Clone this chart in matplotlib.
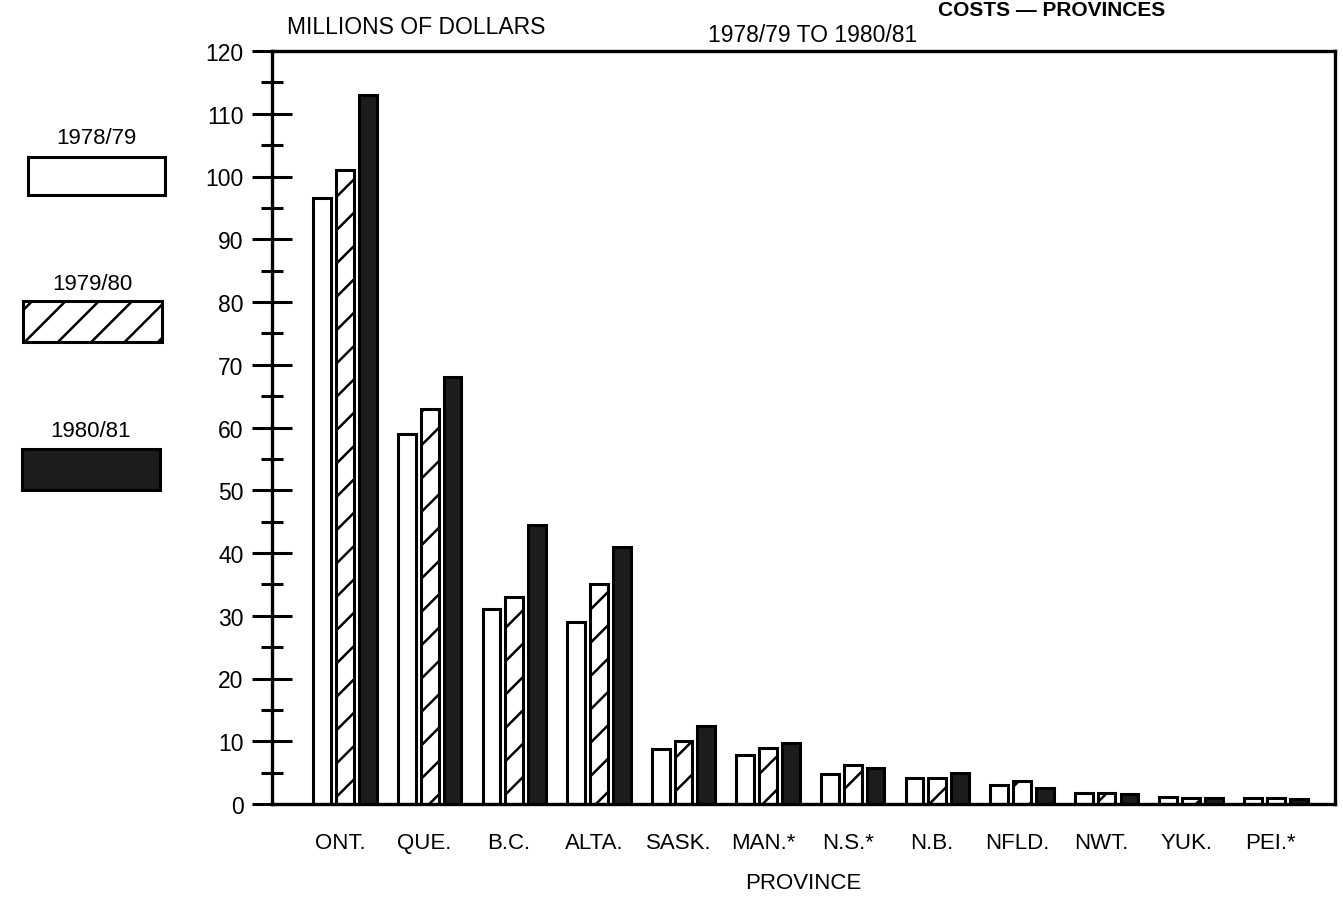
import numpy as np
import matplotlib.pyplot as plt
from matplotlib.patches import Rectangle

plt.rcParams['font.family'] = ['Liberation Sans', 'DejaVu Sans']
plt.rcParams['hatch.linewidth'] = 1.8

provinces = ['ONT.', 'QUE.', 'B.C.', 'ALTA.', 'SASK.', 'MAN.*', 'N.S.*',
             'N.B.', 'NFLD.', 'NWT.', 'YUK.', 'PEI.*']
years = ['1978/79', '1979/80', '1980/81']
costs_7879 = [96.5, 59.0, 31.0, 29.0, 8.7, 7.8, 4.8, 4.2, 3.0, 1.8, 1.1, 1.0]
costs_7980 = [101.0, 63.0, 33.0, 35.0, 10.0, 8.9, 6.2, 4.2, 3.7, 1.8, 0.9, 0.9]
costs_8081 = [113.0, 68.0, 44.5, 41.0, 12.5, 9.8, 5.8, 5.0, 2.5, 1.6, 0.9, 0.8]

styles = [dict(facecolor='white', hatch=None),
          dict(facecolor='white', hatch='/'),
          dict(facecolor='#1c1c1c', hatch=None)]

fig = plt.figure(figsize=(13.43, 9.12), dpi=100)
ax = fig.add_axes([272 / 1343, 1 - 805 / 912, (1335 - 272) / 1343, (805 - 52) / 912])

x = np.arange(len(provinces))
w = 0.21
offsets = [-0.27, 0.0, 0.27]
for vals, off, st in zip([costs_7879, costs_7980, costs_8081], offsets, styles):
    ax.bar(x + off, vals, width=w, edgecolor='black', linewidth=2.2, **st)

ax.set_xlim(-0.863, 11.70)
ax.set_ylim(0, 120)
ax.set_yticks(np.arange(0, 121, 10))
ax.set_yticks(np.arange(5, 120, 10), minor=True)
ax.tick_params(axis='y', which='major', direction='inout', length=29, width=2.2,
               labelsize=16.5, pad=6)
ax.tick_params(axis='y', which='minor', direction='inout', length=16, width=2.2)
ax.set_xticks(x - 0.06)
ax.set_xticklabels(provinces, fontsize=16)
ax.tick_params(axis='x', length=0, pad=20)
for s in ax.spines.values():
    s.set_linewidth(2.4)
ax.set_xlabel('PROVINCE', fontsize=16, labelpad=14)

fig.text(287 / 1343, 1 - 27 / 912, 'MILLIONS OF DOLLARS', fontsize=16.5, va='center')
fig.text(708 / 1343, 1 - 35 / 912, '1978/79 TO 1980/81', fontsize=16.5, va='center')
# the scan cuts the main title at the top edge; keep it small and whole
fig.text(1165 / 1343, 1 - 1 / 912, 'COSTS \u2014 PROVINCES', fontsize=15,
         fontweight='bold', ha='right', va='top')

# legend boxes on the left
legend_y = [(138, 158, 196), (285, 302, 343), (432, 450, 491)]
legend_x = [(28, 165), (23, 162), (22, 160)]
for lab, st, (ty, y0, y1), (x0, x1) in zip(years, styles, legend_y, legend_x):
    fig.text((x0 + x1) / 2 / 1343, 1 - ty / 912, lab, fontsize=16, ha='center', va='center')
    fig.add_artist(Rectangle((x0 / 1343, 1 - y1 / 912), (x1 - x0) / 1343, (y1 - y0) / 912,
                             transform=fig.transFigure, edgecolor='black', linewidth=2.2,
                             **st))

fig.savefig('out.png', dpi=100, facecolor='white')
